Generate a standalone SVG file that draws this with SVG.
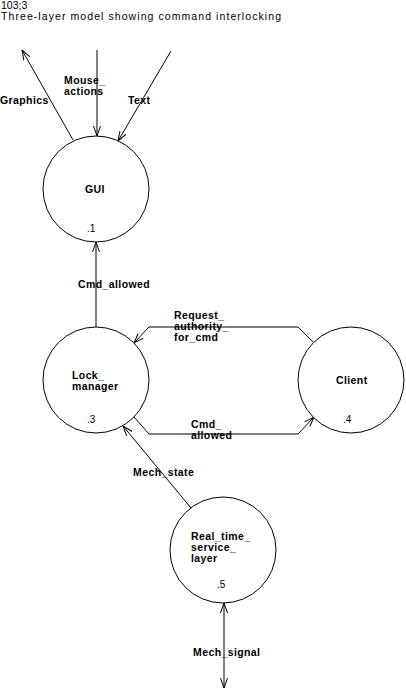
<svg xmlns="http://www.w3.org/2000/svg" width="406" height="688" viewBox="0 0 406 688">
<defs>
<marker id="arr" viewBox="0 0 10 8" markerUnits="userSpaceOnUse" markerWidth="10" markerHeight="8" refX="10" refY="4" orient="auto-start-reverse">
<path d="M0,0.5 L10,4 L0,7.5" fill="none" stroke="#000" stroke-width="1"/>
</marker>
</defs>
<style>
.bg{fill:#fff}
.node{fill:#fff;stroke:#000;stroke-width:1}
.lbl{font-family:"Liberation Sans",Arial,sans-serif;font-size:10.5px;font-weight:bold;letter-spacing:0.4px;fill:#000}
.num{font-family:"Liberation Sans",Arial,sans-serif;font-size:10px;fill:#000}
.ttl{font-family:"Liberation Sans",Arial,sans-serif;font-size:10.5px;fill:#000}
.flow{fill:none;stroke:#000;stroke-width:1;marker-end:url(#arr)}
</style>
<rect class="bg" x="0" y="0" width="406" height="688"/>
<g id="title">
<text class="ttl" x="1" y="9">103;3</text>
<text class="ttl" x="1" y="20" textLength="280" lengthAdjust="spacing">Three-layer model showing command interlocking</text>
</g>
<g id="connectors">
<line class="flow" x1="73" y1="140" x2="22" y2="50"/>
<line class="flow" x1="97" y1="50" x2="97" y2="136"/>
<line class="flow" x1="171" y1="51" x2="118" y2="141"/>
<line class="flow" x1="96" y1="327" x2="96" y2="242"/>
<polyline class="flow" points="313,342 298,327 149,327 134,343"/>
<polyline class="flow" points="134,417 149,434 298,434 314,417"/>
<line class="flow" x1="191" y1="508" x2="123" y2="426"/>
<line class="flow" x1="224" y1="603" x2="224" y2="688" style="marker-start:url(#arr)"/>
<text class="lbl" x="0" y="104">Graphics</text>
<text class="lbl" x="64" y="84">Mouse_</text>
<text class="lbl" x="64" y="95">actions</text>
<text class="lbl" x="128" y="104">Text</text>
<text class="lbl" x="78" y="288">Cmd_allowed</text>
<text class="lbl" x="174" y="319">Request_</text>
<text class="lbl" x="174" y="330">authority_</text>
<text class="lbl" x="174" y="341">for_cmd</text>
<text class="lbl" x="191" y="428">Cmd_</text>
<text class="lbl" x="191" y="439">allowed</text>
<text class="lbl" x="133" y="476">Mech_state</text>
<text class="lbl" x="193" y="656">Mech_signal</text>
</g>
<g id="gui">
<circle class="node" cx="96" cy="189" r="53"/>
<text class="lbl" x="85" y="193">GUI</text>
<text class="num" x="87" y="232">.1</text>
</g>
<g id="lock_manager">
<circle class="node" cx="96" cy="380" r="53"/>
<text class="lbl" x="72" y="379">Lock_</text>
<text class="lbl" x="72" y="390">manager</text>
<text class="num" x="87" y="423">.3</text>
</g>
<g id="client">
<circle class="node" cx="351" cy="380" r="53"/>
<text class="lbl" x="336" y="384">Client</text>
<text class="num" x="343" y="423">.4</text>
</g>
<g id="real_time_service_layer">
<circle class="node" cx="223" cy="550" r="53"/>
<text class="lbl" x="191" y="540">Real_time_</text>
<text class="lbl" x="191" y="551">service_</text>
<text class="lbl" x="191" y="562">layer</text>
<text class="num" x="217" y="588">.5</text>
</g>
</svg>
